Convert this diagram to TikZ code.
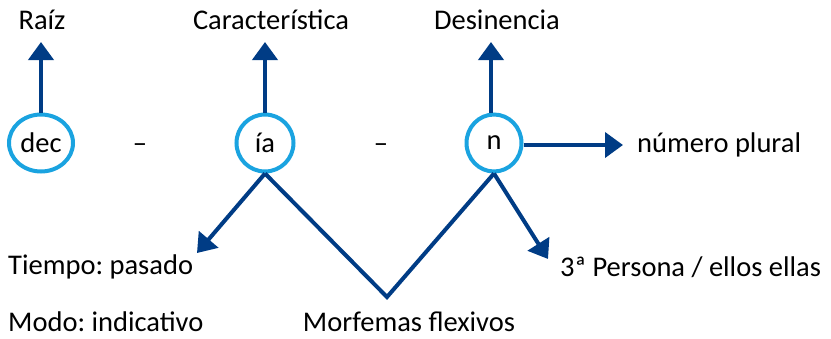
\documentclass[tikz,border=0pt]{standalone}
\usepackage{fontspec}
\setmainfont{Carlito}
\frenchspacing
\usetikzlibrary{arrows.meta,shapes.geometric}
\definecolor{dblue}{HTML}{003C85}
\definecolor{lblue}{HTML}{1AA3E0}
\begin{document}
\begin{tikzpicture}[x=1pt,y=-1pt,
  txt/.style={inner sep=0pt,font=\fontsize{28.5}{32}\selectfont},
  morph/.style={ellipse,draw=lblue,line width=4pt,inner sep=0pt,font=\fontsize{28.5}{32}\selectfont},
  con/.style={draw=dblue,line width=4pt},
  arr/.style={con,-{Triangle[length=18pt,width=25pt]},fill=dblue}]
\useasboundingbox (0,0) rectangle (831,338);
\node[morph,minimum width=64pt,minimum height=57pt] (dec) at (41,143) {dec};
\node[morph,minimum width=57pt,minimum height=57pt] (ia) at (265,143) {ía};
\node[morph,minimum width=55pt,minimum height=57pt] (n) at (494,143) {n};
\node[txt] (d1) at (140,148) {–};
\node[txt] (d2) at (381,148) {–};
\node[txt] (raiz) at (42,20) {Raíz};
\node[txt] (car) at (271,20) {Característica};
\node[txt] (des) at (497,20) {Desinencia};
\node[txt,anchor=west] (num) at (637,145) {número plural};
\node[txt,anchor=west] (tie) at (8,267) {Tiempo: pasado};
\node[txt,anchor=west] (modo) at (8,322) {Modo: indicativo};
\node[txt] (morf) at (409,322) {Morfemas flexivos};
\node[txt,anchor=west] (pers) at (560,267) {3ª Persona / ellos ellas};
\coordinate (traiz) at (41,42);
\coordinate (tcar) at (265,42);
\coordinate (tdes) at (491,42);
\coordinate (tnum) at (623,145);
\coordinate (ttie) at (197,253);
\coordinate (tpers) at (548,259);
\coordinate (vb) at (387,297);
\draw[arr] (dec.north) -- (traiz);
\draw[arr] (ia.north) -- (tcar);
\draw[arr] (n.north -| tdes) -- (tdes);
\draw[arr] (n.east |- tnum) -- (tnum);
\draw[arr] (ia.south) -- (ttie);
\draw[con,line join=miter] (ia.south) -- (vb) -- (n.south);
\draw[arr] (n.south) -- (tpers);
\end{tikzpicture}
\end{document}
